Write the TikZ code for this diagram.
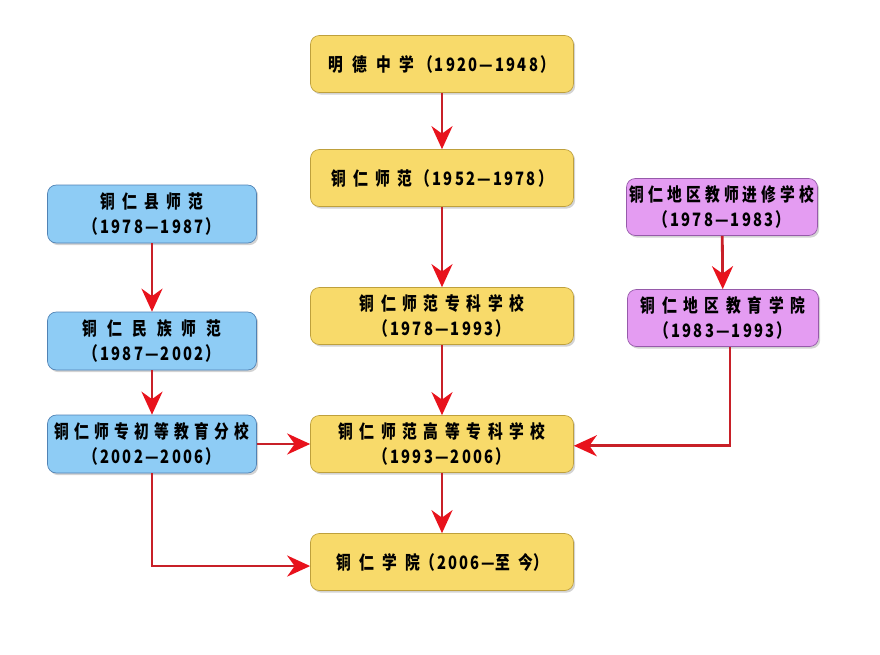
\documentclass[tikz,border=0pt]{standalone}
\usepackage{fontspec}
\usepackage{tikz}
\usetikzlibrary{arrows.meta,shadows}
\newfontfamily\cjk[FakeStretch=0.8, LetterSpace=12]{Noto Sans CJK SC}
% spaced Chinese words
\newcommand\cn[2]{{\addfontfeature{LetterSpace=#1}#2}}
\definecolor{yelbox}{RGB}{248,218,106}
\definecolor{yeledge}{RGB}{190,160,60}
\definecolor{bluebox}{RGB}{142,204,245}
\definecolor{blueedge}{RGB}{80,130,180}
\definecolor{purpbox}{RGB}{228,156,242}
\definecolor{purpedge}{RGB}{150,90,170}
\definecolor{linered}{RGB}{200,32,40}
\definecolor{tipred}{RGB}{232,18,28}
\tikzset{
	box/.style={rounded corners=5pt, align=center, inner sep=0pt, font=\cjk\bfseries\fontsize{10.5}{14.6}\selectfont,
		drop shadow={opacity=0.35, shadow xshift=1pt, shadow yshift=-1.2pt}},
	yelnode/.style={box, fill=yelbox, draw=yeledge, line width=0.4pt, minimum width=5.26cm, minimum height=1.14cm},
	bluenode/.style={box, fill=bluebox, draw=blueedge, line width=0.4pt, minimum width=4.18cm, minimum height=1.16cm},
	purpnode/.style={box, fill=purpbox, draw=purpedge, line width=0.4pt, minimum width=3.82cm, minimum height=1.14cm},
	link/.style={draw=linered, line width=1.6pt, -{Stealth[length=4.6mm, width=4.2mm, color=tipred]}}
}
\begin{document}
\begin{tikzpicture}[x=0.02cm, y=-0.02cm]
	\useasboundingbox (0,0) rectangle (880,654);
	% middle column
	\node[yelnode] (mingde) at (442,64) {\cn{48}{明德中学}\hspace{2pt}（1920—1948）};
	\node[yelnode] (shifan) at (442,178) {\cn{40}{铜仁师范}\hspace{2pt}（1952—1978）};
	\node[yelnode] (zhuanke) at (442,316) {\cn{36}{铜仁师范专科学校}\\（1978—1993）};
	\node[yelnode] (gaozhuan) at (442,444) {\cn{36}{铜仁师范高等专科学校}\\（1993—2006）};
	\node[yelnode] (xueyuan) at (442,562) {\cn{45}{铜仁学院}（2006—\cn{45}{至今}）};
	% left column
	\node[bluenode] (xian) at (152,214) {\cn{40}{铜仁县师范}\\（1978—1987）};
	\node[bluenode] (minzu) at (152,341) {\cn{55}{铜仁民族师范}\\（1987—2002）};
	\node[bluenode] (fenxiao) at (152,444) {\cn{28}{铜仁师专初等教育分校}\\（2002—2006）};
	% right column
	\node[purpnode] (jinxiu) at (722,207) {\cn{22}{铜仁地区教师进修学校}\\（1978—1983）};
	\node[purpnode] (jiaoyu) at (723,318) {\cn{36}{铜仁地区教育学院}\\（1983—1993）};
	% links
	\draw[link] (mingde) -- (shifan);
	\draw[link] (shifan) -- (zhuanke);
	\draw[link] (zhuanke) -- (gaozhuan);
	\draw[link] (gaozhuan) -- (xueyuan);
	\draw[link] (xian) -- (minzu);
	\draw[link] (minzu) -- (fenxiao);
	\draw[link] (fenxiao) -- (gaozhuan);
	\draw[link] (fenxiao.south) |- ([yshift=-2.3pt]xueyuan.west);
	\draw[link] (jinxiu) -- (jiaoyu);
	\draw[link] ([xshift=4pt]jiaoyu.south) |- ([yshift=-1pt]gaozhuan.east);
\end{tikzpicture}
\end{document}
